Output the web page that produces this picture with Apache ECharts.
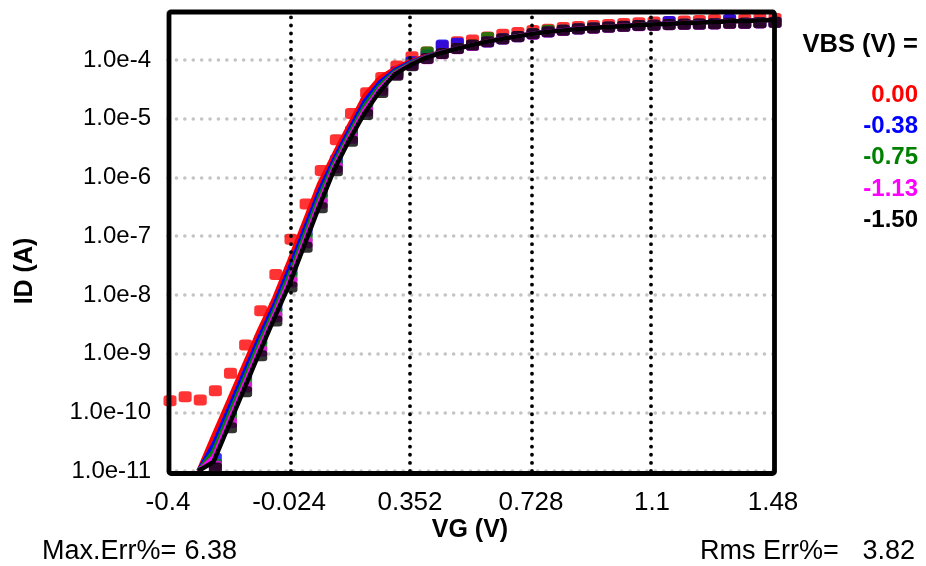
<!DOCTYPE html>
<html><head><meta charset="utf-8">
<script src="https://cdn.jsdelivr.net/npm/echarts@6/dist/echarts.min.js"></script>
<style>html,body{margin:0;padding:0;background:#fff}#c{width:926px;height:566px}</style>
</head><body><div id="c"></div>
<script>
// Gate voltage VG (V)
const vg = [-0.4,-0.353,-0.306,-0.259,-0.212,-0.165,-0.118,-0.071,-0.024,0.023,0.07,0.117,0.164,0.211,0.258,0.305,0.352,0.399,0.446,0.493,0.54,0.587,0.634,0.681,0.728,0.775,0.822,0.869,0.916,0.963,1.01,1.057,1.104,1.151,1.198,1.245,1.292,1.339,1.386,1.433,1.48];
const xTickValues = [-0.4,-0.024,0.352,0.728,1.104,1.48];
const xTickLabels = ['-0.4','-0.024','0.352','0.728','1.1','1.48'];
const vbsLabels = ['0.00','-0.38','-0.75','-1.13','-1.50'];

// Simulated ID (A), lines
const simVbs0 = [null,null,1.0e-11,4.04e-11,1.58e-10,6.28e-10,2.47e-9,8.69e-9,3.77e-8,1.74e-7,8.04e-7,2.61e-6,8.13e-6,2.53e-5,5.04e-5,7.31e-5,9.61e-5,1.17e-4,1.37e-4,1.57e-4,1.80e-4,2.07e-4,2.32e-4,2.56e-4,2.82e-4,3.05e-4,3.24e-4,3.44e-4,3.58e-4,3.73e-4,3.87e-4,3.99e-4,4.10e-4,4.22e-4,4.31e-4,4.43e-4,4.51e-4,4.61e-4,4.69e-4,4.79e-4,4.88e-4];
const simVbs038 = [null,null,1.0e-11,2.86e-11,1.14e-10,4.57e-10,1.82e-9,6.65e-9,2.76e-8,1.29e-7,5.97e-7,2.12e-6,6.65e-6,2.01e-5,4.23e-5,6.76e-5,9.14e-5,1.14e-4,1.35e-4,1.56e-4,1.79e-4,2.06e-4,2.31e-4,2.55e-4,2.81e-4,3.04e-4,3.23e-4,3.42e-4,3.56e-4,3.71e-4,3.85e-4,3.97e-4,4.08e-4,4.20e-4,4.29e-4,4.40e-4,4.49e-4,4.59e-4,4.67e-4,4.77e-4,4.86e-4];
const simVbs075 = [null,null,1.0e-11,2.20e-11,8.87e-11,3.59e-10,1.45e-9,5.43e-9,2.18e-8,1.02e-7,4.76e-7,1.81e-6,5.71e-6,1.69e-5,3.71e-5,6.38e-5,8.79e-5,1.12e-4,1.34e-4,1.55e-4,1.78e-4,2.05e-4,2.30e-4,2.54e-4,2.80e-4,3.02e-4,3.21e-4,3.40e-4,3.54e-4,3.69e-4,3.83e-4,3.96e-4,4.07e-4,4.18e-4,4.27e-4,4.38e-4,4.47e-4,4.57e-4,4.65e-4,4.75e-4,4.84e-4];
const simVbs113 = [null,null,1.0e-11,1.75e-11,7.13e-11,2.90e-10,1.18e-9,4.55e-9,1.78e-8,8.32e-8,3.90e-7,1.58e-6,5.00e-6,1.45e-5,3.30e-5,6.05e-5,8.49e-5,1.10e-4,1.32e-4,1.54e-4,1.77e-4,2.04e-4,2.29e-4,2.52e-4,2.78e-4,3.01e-4,3.19e-4,3.38e-4,3.52e-4,3.67e-4,3.81e-4,3.94e-4,4.05e-4,4.16e-4,4.26e-4,4.36e-4,4.46e-4,4.55e-4,4.64e-4,4.73e-4,4.82e-4];
const simVbs150 = [null,null,1.0e-11,1.42e-11,5.83e-11,2.39e-10,9.82e-10,3.87e-9,1.47e-8,6.92e-8,3.26e-7,1.39e-6,4.43e-6,1.26e-5,2.96e-5,5.77e-5,8.22e-5,1.08e-4,1.31e-4,1.54e-4,1.77e-4,2.03e-4,2.28e-4,2.51e-4,2.77e-4,3.00e-4,3.18e-4,3.37e-4,3.51e-4,3.65e-4,3.79e-4,3.92e-4,4.03e-4,4.14e-4,4.24e-4,4.34e-4,4.44e-4,4.53e-4,4.62e-4,4.71e-4,4.80e-4];

// Measured ID (A), square markers
const measVbs0 = [1.57e-10,1.84e-10,1.62e-10,2.33e-10,4.61e-10,1.40e-9,5.37e-9,2.22e-8,8.87e-8,3.52e-7,1.31e-6,4.39e-6,1.23e-5,2.77e-5,5.07e-5,7.91e-5,1.14e-4,1.38e-4,1.75e-4,2.05e-4,2.19e-4,2.47e-4,2.77e-4,2.96e-4,3.18e-4,3.37e-4,3.61e-4,3.75e-4,3.90e-4,4.06e-4,4.22e-4,4.31e-4,4.44e-4,4.53e-4,4.62e-4,4.71e-4,4.90e-4,4.93e-4,4.99e-4,5.05e-4,5.09e-4];
const measVbs038 = [null,null,null,1.65e-11,1.06e-10,4.26e-10,1.70e-9,6.21e-9,2.58e-8,1.20e-7,5.57e-7,1.98e-6,6.21e-6,1.88e-5,3.95e-5,6.31e-5,9.40e-5,1.22e-4,1.80e-4,1.93e-4,1.78e-4,2.03e-4,2.28e-4,2.50e-4,2.78e-4,3.02e-4,3.22e-4,3.40e-4,3.51e-4,3.63e-4,3.74e-4,3.88e-4,3.92e-4,4.56e-4,4.08e-4,4.10e-4,4.15e-4,4.93e-4,4.24e-4,4.31e-4,4.38e-4];
const measVbs075 = [null,null,null,1.3e-11,8.28e-11,3.35e-10,1.35e-9,5.07e-9,2.03e-8,9.52e-8,4.44e-7,1.69e-6,5.33e-6,1.58e-5,3.46e-5,5.95e-5,8.50e-5,1.38e-4,1.29e-4,1.57e-4,1.79e-4,2.43e-4,2.29e-4,2.51e-4,2.78e-4,3.24e-4,3.22e-4,3.40e-4,3.51e-4,3.63e-4,3.74e-4,3.88e-4,3.92e-4,4.01e-4,4.08e-4,4.10e-4,4.15e-4,4.22e-4,4.24e-4,4.31e-4,4.38e-4];
const measVbs113 = [null,null,null,1.2e-11,6.65e-11,2.71e-10,1.10e-9,4.25e-9,1.66e-8,7.76e-8,3.64e-7,1.47e-6,4.67e-6,1.35e-5,3.08e-5,5.65e-5,8.20e-5,1.05e-4,1.28e-4,1.56e-4,1.78e-4,2.03e-4,2.28e-4,2.50e-4,2.77e-4,3.01e-4,3.21e-4,3.39e-4,3.50e-4,3.62e-4,3.73e-4,3.86e-4,3.90e-4,3.99e-4,4.06e-4,4.08e-4,4.13e-4,4.20e-4,4.22e-4,4.29e-4,4.36e-4];
const measVbs150 = [null,null,null,1.12e-11,5.44e-11,2.23e-10,9.16e-10,3.61e-9,1.37e-8,6.46e-8,3.04e-7,1.30e-6,4.13e-6,1.18e-5,2.80e-5,5.50e-5,8.00e-5,1.06e-4,1.30e-4,1.58e-4,1.80e-4,2.05e-4,2.30e-4,2.52e-4,2.80e-4,3.04e-4,3.24e-4,3.42e-4,3.53e-4,3.65e-4,3.76e-4,3.90e-4,3.94e-4,4.03e-4,4.10e-4,4.12e-4,4.17e-4,4.24e-4,4.26e-4,4.33e-4,4.40e-4];

const colors = ['#ff0000','#0000ff','#008000','#ff00ff','#000000'];
const simSets = [simVbs0, simVbs038, simVbs075, simVbs113, simVbs150];
const measSets = [measVbs0, measVbs038, measVbs075, measVbs113, measVbs150];
const vGridLines = [-0.024, 0.352, 0.728, 1.104];

const pair = arr => vg.map((x, i) => [x, arr[i]]).filter(p => p[1] !== null);
const SANS = "'Liberation Sans',Arial,sans-serif";

const series = [];
measSets.forEach((arr, k) => {
  series.push({
    type: 'scatter', data: pair(arr), symbol: 'roundRect', symbolSize: [13, 11], symbolOffset: [2, 0],
    itemStyle: { color: colors[k] }, silent: true, z: 2
  });
});
simSets.forEach((arr, k) => {
  series.push({
    type: 'line', data: pair(arr), showSymbol: false, silent: true,
    lineStyle: { color: colors[k], width: k === 4 ? 4.5 : 4 }, z: 3,
    markLine: k === 0 ? {
      silent: true, symbol: 'none', label: { show: false },
      lineStyle: { color: '#000', width: 3.8, type: [0.1, 8], cap: 'round' },
      data: vGridLines.map(v => ({ xAxis: v }))
    } : undefined
  });
});

const chart = echarts.init(document.getElementById('c'), null, { renderer: 'canvas' });
const legendTexts = vbsLabels.map((t, k) => ({
  type: 'text', right: 8, top: 83 + k * 31.3,
  style: { text: t, fill: colors[k], font: 'bold 24px ' + SANS, textAlign: 'right' }
}));
const txt = (s, x, y, align, size) => ({ type: 'text', x: x, y: y, style: { text: s, font: size + 'px ' + SANS, fill: '#000', textAlign: align, textVerticalAlign: 'middle' } });
chart.setOption({
  animation: false,
  backgroundColor: '#fff',
  grid: { left: 168, top: 12, width: 605, height: 459, show: false },
  xAxis: {
    type: 'value', min: -0.4, max: 1.48,
    axisLine: { show: false }, axisTick: { show: false }, splitLine: { show: false },
    axisLabel: {
      customValues: xTickValues, margin: 19, color: '#000', fontSize: 26, fontFamily: SANS,
      formatter: v => { const i = xTickValues.findIndex(t => Math.abs(t - v) < 1e-6); return i >= 0 ? xTickLabels[i] : ''; }
    }
  },
  yAxis: {
    type: 'log', logBase: 10, min: 1e-11, max: 6.6e-4,
    axisLine: { show: false }, axisTick: { show: false },
    splitLine: { show: true, lineStyle: { color: '#c4c4c4', width: 3.5, type: [0.1, 8.3], cap: 'round' } },
    axisLabel: {
      showMaxLabel: false, margin: 17, color: '#000', fontSize: 24, fontFamily: SANS,
      formatter: v => Number(v).toExponential(1)
    }
  },
  series: series,
  graphic: [
    { type: 'rect', shape: { x: 169, y: 12, width: 605.5, height: 461.5, r: 2 }, style: { fill: null, stroke: '#000', lineWidth: 4.8 }, z: 10, silent: true },
    { type: 'text', x: 25, y: 271, rotation: Math.PI / 2, style: { text: 'ID (A)', font: 'bold 25px ' + SANS, fill: '#000', textAlign: 'center', textVerticalAlign: 'middle' } },
    { type: 'text', x: 470, y: 530, style: { text: 'VG (V)', font: 'bold 25px ' + SANS, fill: '#000', textAlign: 'center', textVerticalAlign: 'middle' } },
    { type: 'text', right: 8, top: 32, style: { text: 'VBS (V) =', font: 'bold 25.5px ' + SANS, fill: '#000', textAlign: 'right' } },
    ...legendTexts,
    txt('Max.Err%=', 42, 552, 'left', 27),
    txt('6.38', 237, 552, 'right', 27),
    txt('Rms Err%=', 700, 552, 'left', 27),
    txt('3.82', 915, 552, 'right', 27)
  ]
});
</script></body></html>
